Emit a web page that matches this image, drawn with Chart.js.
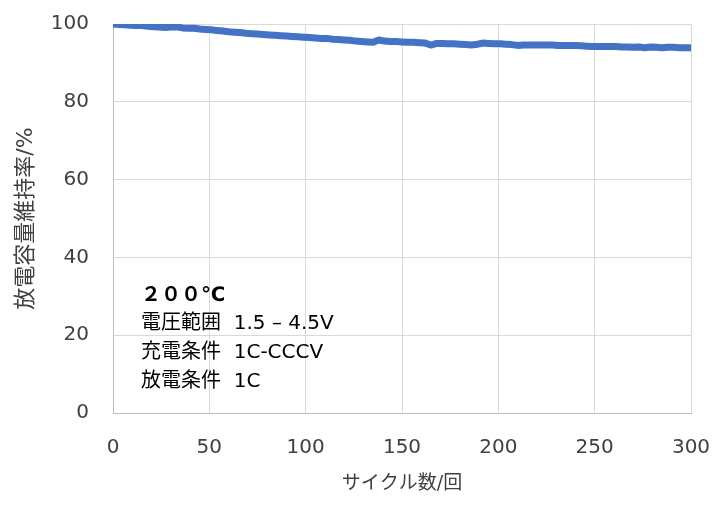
<!DOCTYPE html>
<html>
<head>
<meta charset="utf-8">
<script src="https://cdn.jsdelivr.net/npm/chart.js@4"></script>
<style>
  html, body { margin: 0; padding: 0; background: #ffffff; }
  #wrap { width: 722px; height: 508px; }
</style>
</head>
<body>
<div id="wrap"><canvas id="c" width="722" height="508"></canvas></div>
<script>
// ---- data ----
const cycles = [0,3,6,9,12,15,18,21,24,27,30,33,36,39,42,45,48,51,54,57,60,63,66,69,72,75,78,81,84,87,90,93,96,99,102,105,108,111,114,117,120,123,126,129,132,135,138,141,144,147,150,153,156,159,162,165,168,171,174,177,180,183,186,189,192,195,198,201,204,207,210,213,216,219,222,225,228,231,234,237,240,243,246,249,252,255,258,261,264,267,270,273,276,279,282,285,288,291,294,297,300];
const retention = [100.0,99.9,99.8,99.7,99.6,99.6,99.4,99.3,99.2,99.1,99.2,99.3,99.0,98.9,98.9,98.7,98.6,98.5,98.3,98.2,98.0,97.9,97.8,97.6,97.5,97.4,97.3,97.2,97.1,97.0,96.9,96.8,96.7,96.6,96.5,96.4,96.3,96.3,96.1,96.0,95.9,95.8,95.6,95.5,95.4,95.3,95.9,95.6,95.5,95.5,95.4,95.3,95.3,95.2,95.1,94.6,95.0,95.0,94.9,94.9,94.8,94.7,94.6,94.8,95.1,95.0,94.9,94.9,94.8,94.7,94.5,94.6,94.6,94.6,94.6,94.6,94.6,94.5,94.5,94.5,94.5,94.4,94.3,94.2,94.2,94.2,94.2,94.2,94.1,94.1,94.0,94.1,93.9,94.1,94.0,93.9,94.0,94.0,93.9,93.9,93.9];
const xTicks = [0,50,100,150,200,250,300];
const yTicks = [0,20,40,60,80,100];
const xTitle = 'サイクル数/回';
const yTitle = '放電容量維持率/%';
const noteLines = ['２００℃', '電圧範囲  1.5 – 4.5V', '充電条件  1C-CCCV', '放電条件  1C'];

const FONT = "'DejaVu Sans', 'Noto Sans CJK JP', sans-serif";

const notePlugin = {
  id: 'note',
  afterDraw(chart) {
    const ctx = chart.ctx;
    const a = chart.chartArea;
    ctx.save();
    ctx.textBaseline = 'middle';
    ctx.textAlign = 'left';
    ctx.fillStyle = '#000000';
    const x0 = a.left + 28;
    const ys = [296, 324, 352.5, 381.5];
    noteLines.forEach((t, i) => {
      ctx.font = (i === 0 ? 'bold ' : '') + '20px ' + FONT;
      ctx.fillText(t, x0, ys[i]);
    });
    ctx.restore();
  }
};

function zeroPad(s) {
  s.paddingTop = 0; s.paddingBottom = 0; s.paddingLeft = 0; s.paddingRight = 0;
}

new Chart(document.getElementById('c'), {
  type: 'line',
  data: {
    datasets: [{
      data: cycles.map((c, i) => ({ x: c, y: retention[i] })),
      borderColor: '#4472C4',
      backgroundColor: '#4472C4',
      borderWidth: 7,
      borderCapStyle: 'round',
      borderJoinStyle: 'round',
      pointRadius: 0,
      tension: 0,
      fill: false
    }]
  },
  options: {
    responsive: false,
    animation: false,
    devicePixelRatio: 1,
    layout: { padding: { top: 24, right: 31, left: 0, bottom: 0 } },
    plugins: { legend: { display: false }, tooltip: { enabled: false } },
    scales: {
      x: {
        type: 'linear',
        min: 0, max: 300,
        afterBuildTicks: (s) => { s.ticks = xTicks.map(v => ({ value: v })); },
        afterFit: (s) => { s.height = 95; zeroPad(s); },
        grid: { color: '#d9d9d9', lineWidth: 1, drawTicks: false },
        border: { color: '#bfbfbf', width: 1 },
        ticks: { padding: 23, color: '#404040', font: { family: FONT, size: 20 }, maxRotation: 0 },
        title: { display: true, text: xTitle, color: '#404040', font: { family: FONT, size: 19 }, padding: { top: 0, bottom: 13 } }
      },
      y: {
        type: 'linear',
        min: 0, max: 100,
        afterBuildTicks: (s) => { s.ticks = yTicks.map(v => ({ value: v })); },
        afterFit: (s) => { s.width = 113; zeroPad(s); },
        grid: { color: '#d9d9d9', lineWidth: 1, drawTicks: false },
        border: { color: '#bfbfbf', width: 1 },
        ticks: { padding: 24, color: '#404040', font: { family: FONT, size: 20 } },
        title: { display: true, text: yTitle, color: '#404040', font: { family: FONT, size: 22 }, padding: { top: 13, bottom: 0 } }
      }
    }
  },
  plugins: [notePlugin]
});
</script>
</body>
</html>
